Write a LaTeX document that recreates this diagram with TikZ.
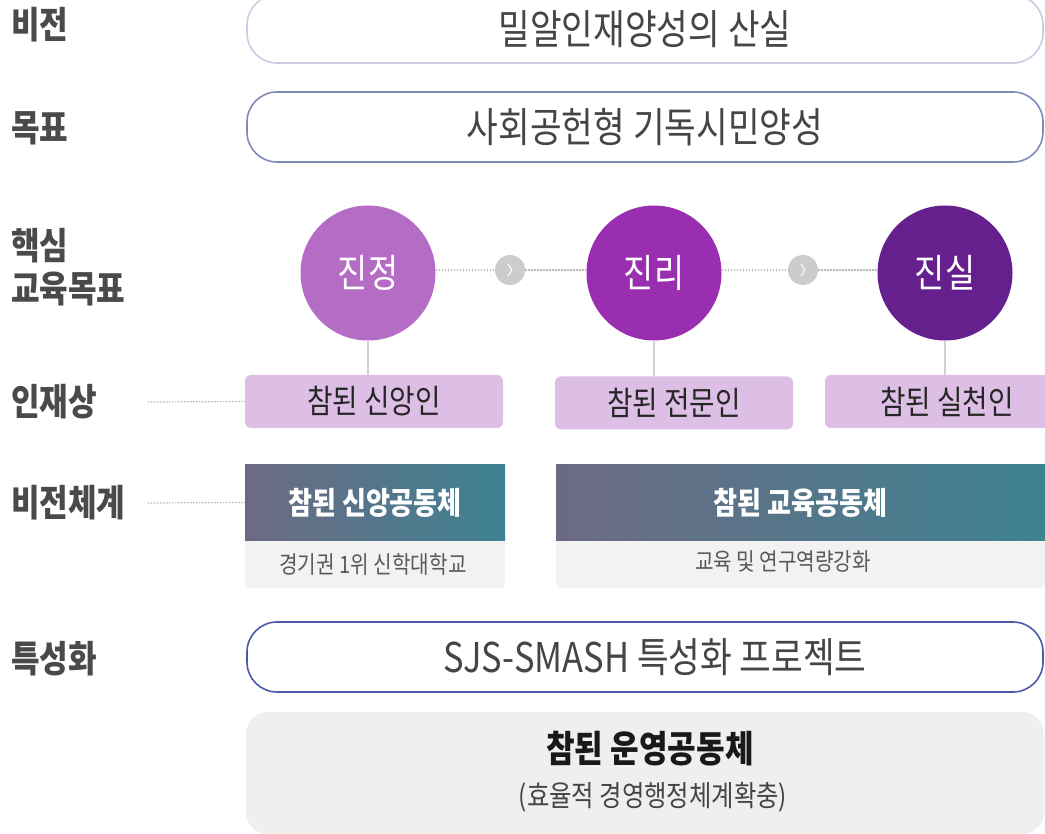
\documentclass[tikz,border=0pt]{standalone}
\usepackage{fontspec}
\setmainfont{Noto Sans CJK KR}[FakeStretch=0.84]
\usetikzlibrary{calc}
\definecolor{lbl}{HTML}{4A4A4A}
\definecolor{txt}{HTML}{454545}
\definecolor{cA}{HTML}{B56CC5}
\definecolor{cB}{HTML}{9A2EB0}
\definecolor{cC}{HTML}{65208E}
\definecolor{pbox}{HTML}{DDBFE6}
\definecolor{gL}{HTML}{6C6A83}
\definecolor{gR}{HTML}{3E8291}
\definecolor{subg}{HTML}{F2F2F0}
\definecolor{botg}{HTML}{EFEFED}
\definecolor{bVis}{HTML}{C8CCE4}
\definecolor{bGoal}{HTML}{8189BA}
\definecolor{bSp}{HTML}{4C58A8}
\definecolor{dotc}{HTML}{B8B8B8}
\tikzset{
  lab/.style={anchor=west, text=lbl, font=\fontsize{37}{43}\selectfont\bfseries, inner sep=0pt, align=left},
  pill/.style={draw, line width=1.6pt, fill=white, rounded corners=30pt, minimum width=796pt, minimum height=#1, text=txt, font=\fontsize{41}{44}\selectfont, inner sep=0pt},
  bigc/.style={circle, minimum size=135pt, inner sep=0pt, text=white, font=\fontsize{39}{42}\selectfont},
  smallc/.style={circle, fill=black!20, minimum size=30pt, inner sep=0pt},
  chev/.style={draw=white, line width=1pt, line cap=round, line join=round},
  pers/.style={fill=pbox, rounded corners=6pt, minimum height=53pt, inner sep=0pt, text=black!85, font=\fontsize{33}{36}\selectfont},
  head/.style={left color=gL, right color=gR, minimum height=76pt, inner sep=0pt, text=white, font=\fontsize{31}{34}\selectfont\bfseries},
  subbox/.style={fill=subg, rounded corners=6pt, inner sep=0pt},
  subtxt/.style={text=black!65, font=\fontsize{24}{26}\selectfont, inner sep=0pt},
  dotl/.style={draw=dotc, line width=1.2pt, dash pattern=on 1.5pt off 1.5pt},
  conn/.style={draw=black!18, line width=1.2pt}
}
\begin{document}
\begin{tikzpicture}[x=1pt,y=-1pt]
\useasboundingbox (0,0) rectangle (1045,834);
\clip (0,0) rectangle (1045,834);
\fill[white] (0,0) rectangle (1045,834);

% left labels
\node[lab] (l1) at (11,25) {비전};
\node[lab] (l2) at (11,128) {목표};
\node[lab] (l3) at (11,267) {핵심\\교육목표};
\node[lab] (l4) at (11,402) {인재상};
\node[lab] (l5) at (11,503) {비전체계};
\node[lab] (l6) at (11,659) {특성화};

% vision / goal
\node[pill=68pt, draw=bVis] (vis) at (645,29) {밀알인재양성의 산실};
\node[pill=70pt, draw=bGoal] (goal) at (645,127) {사회공헌형 기독시민양성};

% core circles
\node[bigc, fill=cA] (c1) at (368,273) {진정};
\node[bigc, fill=cB] (c2) at (654,273) {진리};
\node[bigc, fill=cC] (c3) at (945,273) {진실};
\node[smallc] (s1) at (510,270) {};
\node[smallc] (s2) at (803,270) {};
\draw[chev] ($(s1.center)+(-2,-6)$) -- ++(4,6) -- ++(-4,6);
\draw[chev] ($(s2.center)+(-2,-6)$) -- ++(4,6) -- ++(-4,6);
\draw[dotl] (c1.east |- s1) -- (s1.west);
\draw[dotl] (s1.east) -- (c2.west |- s1);
\draw[dotl] (c2.east |- s2) -- (s2.west);
\draw[dotl] (s2.east) -- (c3.west |- s2);

% persona boxes
\node[pers, minimum width=258pt] (p1) at (374,401.5) {참된 신앙인};
\node[pers, minimum width=238pt] (p2) at (674,403) {참된 전문인};
\node[pers, minimum width=244pt] (p3) at (947,401.5) {참된 실천인};
\draw[conn] (c1.south) -- (c1.south |- p1.north);
\draw[conn] (c2.south) -- (c2.south |- p2.north);
\draw[conn] (c3.south) -- (c3.south |- p3.north);

\coordinate (d4) at (148,402);
\coordinate (d5) at (148,503);
\draw[dotl] (d4) -- (p1.west);

% vision system
\node[subbox, minimum width=260pt, minimum height=58pt, anchor=north] (u1) at (375,530) {};
\node[subbox, minimum width=489pt, minimum height=58pt, anchor=north] (u2) at (800.5,530) {};
\node[head, minimum width=260pt] (h1) at (375,502.5) {참된 신앙공동체};
\node[head, minimum width=489pt] (h2) at (800.5,502.5) {참된 교육공동체};
\node[subtxt] (t1) at (373,564) {경기권 1위 신학대학교};
\node[subtxt] (t2) at (783,562) {교육 및 연구역량강화};
\draw[dotl] (d5) -- (h1.west);

% specialization
\node[pill=70pt, draw=bSp] (sp) at (645,657) {\hspace*{20pt}SJS-SMASH 특성화 프로젝트};

% operations
\node[fill=botg, rounded corners=22pt, minimum width=798pt, minimum height=122pt, inner sep=0pt] (op) at (645,773) {};
\node[font=\fontsize{37}{40}\selectfont\bfseries, text=black!90, inner sep=0pt] (o1) at (650,749) {참된 운영공동체};
\node[font=\fontsize{29}{32}\selectfont, text=txt, inner sep=0pt] (o2) at (653,797) {(효율적 경영행정체계확충)};
\end{tikzpicture}
\end{document}
